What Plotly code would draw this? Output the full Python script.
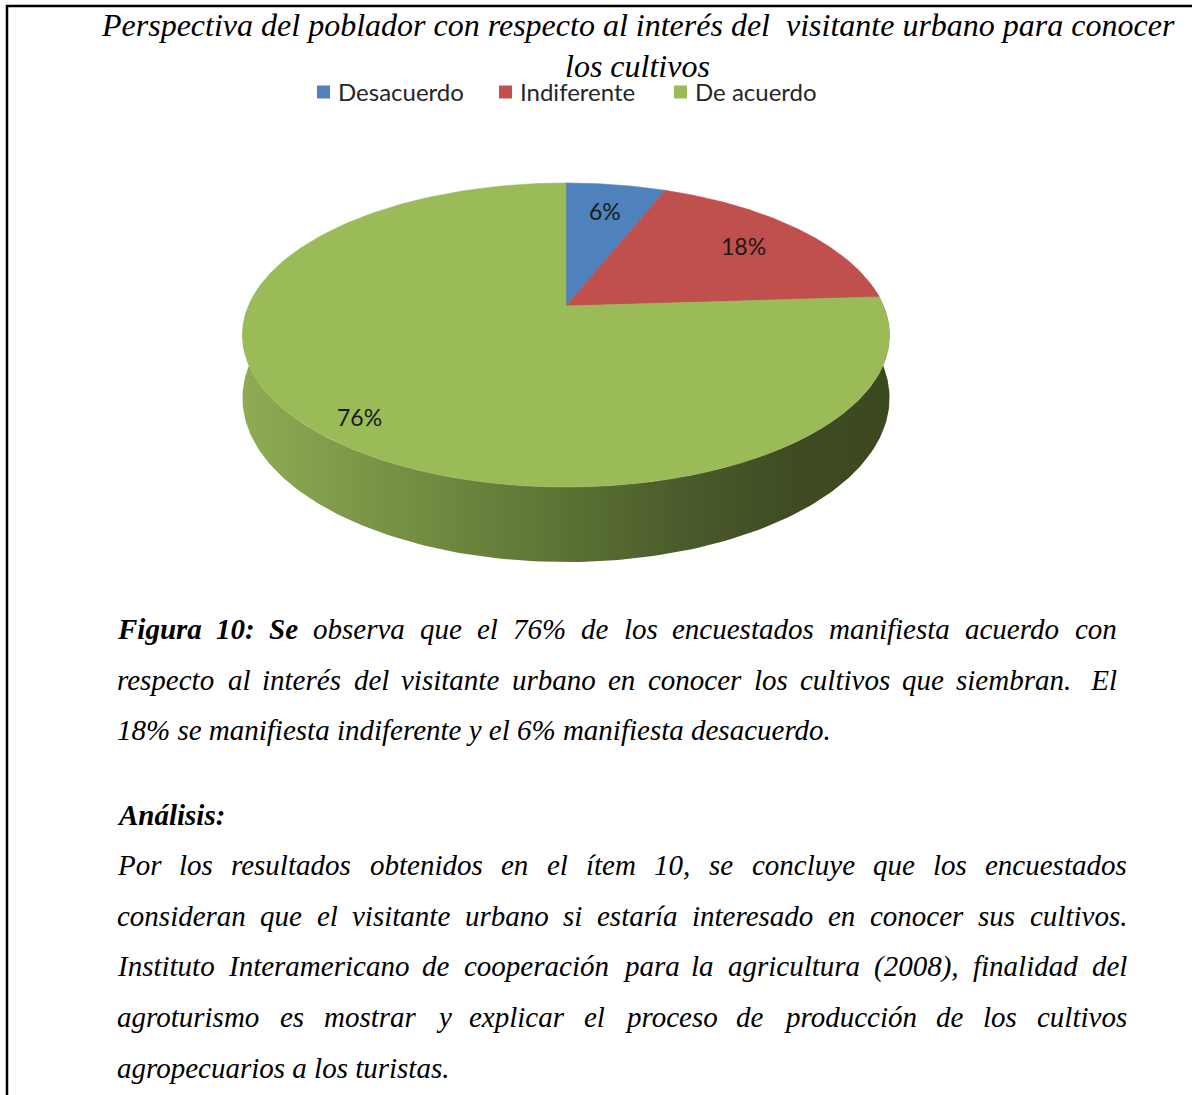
import numpy as np
import plotly.graph_objects as go

# ---------------- data ----------------
categories = ["Desacuerdo", "Indiferente", "De acuerdo"]
values = [6, 18, 76]
slice_colors = ["#4f81bd", "#c0504d", "#9bbb59"]

title_lines = [
    "Perspectiva del poblador con respecto al interés del\u00a0 visitante urbano para conocer",
    "los cultivos",
]

para1 = [
    [("Figura", True), ("10:", True), ("Se", True), ("observa", False), ("que", False), ("el", False),
     ("76%", False), ("de", False), ("los", False), ("encuestados", False), ("manifiesta", False),
     ("acuerdo", False), ("con", False)],
    [("respecto", False), ("al", False), ("interés", False), ("del", False), ("visitante", False),
     ("urbano", False), ("en", False), ("conocer", False), ("los", False), ("cultivos", False),
     ("que", False), ("siembran.", False), ("\u00a0El", False)],
]
para1_last = "18% se manifiesta indiferente y el 6% manifiesta desacuerdo."
analysis_head = "Análisis:"
para2 = [
    "Por los resultados obtenidos en el ítem 10, se concluye que los encuestados",
    "consideran que el visitante urbano si estaría interesado en conocer sus cultivos.",
    "Instituto Interamericano de cooperación para la agricultura (2008), finalidad del",
    "agroturismo es mostrar y explicar el proceso de producción de los cultivos",
]
para2_last = "agropecuarios a los turistas."

# ---------------- page / layout constants ----------------
W, H = 1192, 1095
CX, CY = 566.0, 306.0      # apex of the pie on the page
RX, RY = 317.6, 146.5      # radii of the top face
K = 0.1908                 # perspective factor
T = 60.7                   # thickness of the pie
LABEL_R = [0.75, 0.75, 0.87]
LABEL_DA = [0, 0, -2.5]    # small angular nudges of the labels (degrees)

# approximate advance widths (Times New Roman italic / bold italic, 1/1000 em)
IT = dict(zip("abcdefghijklmnopqrstuvwxyz",
              [500, 500, 444, 500, 444, 278, 500, 500, 278, 278, 444, 278, 722, 500, 500, 500, 500,
               389, 389, 278, 500, 444, 667, 444, 444, 389]))
IT.update(dict(zip("ABCDEFGHIJKLMNOPQRSTUVWXYZ",
                   [611, 611, 667, 722, 611, 611, 722, 722, 333, 444, 667, 556, 833, 667, 722, 611, 722,
                    611, 500, 556, 722, 611, 833, 611, 556, 556])))
IT.update({c: 500 for c in "0123456789"})
IT.update({"%": 833, ".": 250, ",": 250, ":": 333, "(": 333, ")": 333, " ": 250, "\u00a0": 250,
           "á": 500, "é": 444, "í": 278, "ó": 500, "ú": 500, "ñ": 500})
BI = dict(IT)
BI.update({"F": 667, "u": 556, "S": 556, "A": 667, "n": 556, "h": 556, "f": 333})


def wwidth(word, bold, size):
    table = BI if bold else IT
    return sum(table.get(ch, 500) for ch in word) * size / 1000.0


def proj(theta_deg, r=1.0, drop=0.0):
    t = np.radians(theta_deg)
    u = r * np.sin(t)
    v = r * np.cos(t)
    d = 1.0 / (1.0 + K * v)
    return CX + RX * u * d, CY - RY * v * d + drop * d


fig = go.Figure()

total = float(sum(values))
starts = np.concatenate([[0.0], np.cumsum(values)[:-1]]) / total * 360.0
ends = np.cumsum(values) / total * 360.0

# ---- sides (front part only) ----
side_scale = {
    "#9bbb59": [[0, "#8fac54"], [0.25, "#758f43"], [0.5, "#5c7234"], [0.7, "#48592a"],
                [0.85, "#3f4c23"], [1, "#3c4920"]],
    "#4f81bd": [[0, "#4a78b0"], [1, "#1f3450"]],
    "#c0504d": [[0, "#b34a48"], [1, "#52221f"]],
}
for a0, a1, col in zip(starts, ends, slice_colors):
    lo, hi = max(a0, 80.0), min(a1, 280.0)
    if hi <= lo:
        continue
    th = np.linspace(lo, hi, 200)
    xt, yt = proj(th)
    xb, yb = proj(th[::-1], drop=T)
    fig.add_trace(go.Scatter(
        x=np.concatenate([xt, xb]), y=np.concatenate([yt, yb]),
        mode="lines", fill="toself", line=dict(width=0),
        fillgradient=dict(type="horizontal", colorscale=side_scale[col]),
        hoverinfo="skip", showlegend=False))

# ---- top faces ----
for a0, a1, col in zip(starts, ends, slice_colors):
    th = np.linspace(a0, a1, 240)
    xa, ya = proj(th)
    fig.add_trace(go.Scatter(
        x=np.concatenate([[CX], xa, [CX]]), y=np.concatenate([[CY], ya, [CY]]),
        mode="lines", fill="toself", fillcolor=col, line=dict(width=0.6, color=col),
        hoverinfo="skip", showlegend=False))

# ---- slice labels ----
for a0, a1, v, r, da in zip(starts, ends, values, LABEL_R, LABEL_DA):
    lx, ly = proj((a0 + a1) / 2.0 + da, r=r)
    fig.add_annotation(x=float(lx), y=float(ly), text=f"{v / total * 100:.0f}%",
                       showarrow=False, font=dict(family="Lato", size=23, color="#1a1a1a"),
                       xanchor="center", yanchor="middle")

# ---- legend (manual) ----
LEG_X = [317, 499, 674]
LEG_Y = 92
for cat, col, lx in zip(categories, slice_colors, LEG_X):
    fig.add_shape(type="rect", x0=lx, x1=lx + 13, y0=LEG_Y - 6.5, y1=LEG_Y + 6.5,
                  fillcolor=col, line=dict(width=0), layer="above")
    fig.add_annotation(x=lx + 19, y=LEG_Y - 1, text=cat, showarrow=False, xanchor="left",
                       yanchor="middle", font=dict(family="Lato", size=24, color="#262626"))

# ---- title ----
for txt, ty in zip(title_lines, [25, 66]):
    fig.add_annotation(x=637.5, y=ty, text=txt, showarrow=False, xanchor="center", yanchor="middle",
                       font=dict(family="Liberation Serif", size=32, style="italic", color="black"))

# ---- body text ----
BODY = dict(family="Liberation Serif", size=29, style="italic", color="black")
FS = 29


def justified(words, y, left, right):
    widths = [wwidth(w, b, FS) for w, b in words]
    gap = (right - left - sum(widths)) / (len(words) - 1)
    x = left
    for (w, b), wd in zip(words, widths):
        fig.add_annotation(x=x, y=y, text=f"<b>{w}</b>" if b else w, showarrow=False,
                           xanchor="left", yanchor="middle", font=BODY, borderpad=0)
        x += wd + gap


def plain(text, y, left, bold=False):
    fig.add_annotation(x=left, y=y, text=f"<b>{text}</b>" if bold else text, showarrow=False,
                       xanchor="left", yanchor="middle", font=BODY, borderpad=0)


LINE_Y1 = [629, 680, 730]
LINE_Y2 = [865, 916, 966, 1017, 1068]
for words, y in zip(para1, LINE_Y1[:2]):
    justified(words, y, 116, 1116)
plain(para1_last, LINE_Y1[2], 116)
plain(analysis_head, 815, 116, bold=True)
for line, y in zip(para2, LINE_Y2[:4]):
    justified([(w, False) for w in line.split(" ")], y, 116, 1126)
plain(para2_last, LINE_Y2[4], 116)

# ---- page border ----
fig.add_shape(type="line", x0=7, x1=7, y0=5, y1=H, line=dict(color="black", width=2.5))
fig.add_shape(type="line", x0=6, x1=W, y0=6, y1=6, line=dict(color="black", width=2.5))

fig.update_layout(
    width=W, height=H, margin=dict(l=0, r=0, t=0, b=0),
    paper_bgcolor="white", plot_bgcolor="white", showlegend=False,
    xaxis=dict(range=[0, W], visible=False, fixedrange=True),
    yaxis=dict(range=[H, 0], visible=False, fixedrange=True),
)

fig.write_html("out.html", config={"displayModeBar": False},
               post_script="document.body.style.margin='0';")
